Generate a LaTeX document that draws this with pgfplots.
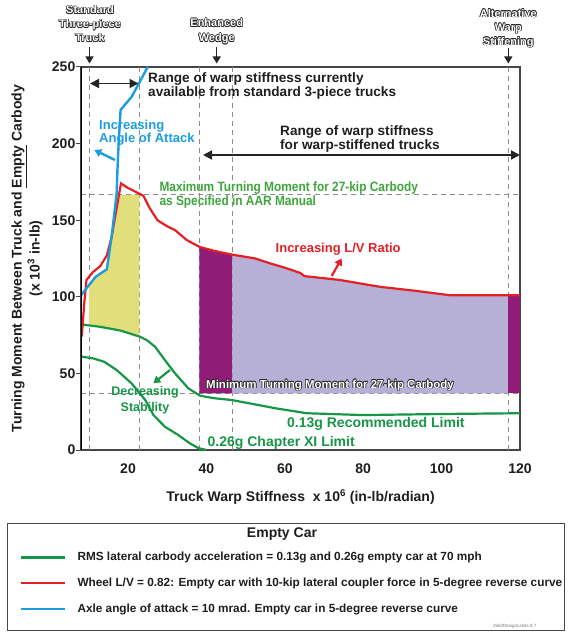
\documentclass[border=0pt]{standalone}
\usepackage{pgfplots}
\pgfplotsset{compat=1.18}
\usepackage{fontspec}
\setmainfont{Liberation Sans}
\setsansfont{Liberation Sans}
\newfontfamily\condfont[FakeStretch=0.88]{Liberation Sans}
\usetikzlibrary{arrows.meta}
\definecolor{cred}{RGB}{228,32,38}
\definecolor{cblue}{RGB}{27,157,224}
\definecolor{cgreen}{RGB}{22,150,70}
\definecolor{clgreen}{RGB}{62,165,62}
\definecolor{cyellow}{RGB}{226,222,124}
\definecolor{cpurple}{RGB}{145,28,120}
\definecolor{clav}{RGB}{182,176,215}
\definecolor{cdash}{RGB}{140,140,140}
\definecolor{ctext}{RGB}{30,30,30}
\newcommand\fs[2]{\fontsize{#1}{#2}\selectfont}
% outlined text: #1 position, #2 node options, #3 text
\newcommand\otext[3]{%
  \foreach \dx/\dy in {0.65/0,-0.65/0,0/0.65,0/-0.65,0.46/0.46,-0.46/0.46,0.46/-0.46,-0.46/-0.46}{%
    \node[#2,text=black!85,xshift=\dx pt,yshift=\dy pt] at #1 {#3};}%
  \node[#2,text=white] at #1 {#3};}
\begin{document}
\begin{tikzpicture}
\path[use as bounding box] (0,0) rectangle (573pt,638pt);
\begin{axis}[
  at={(81pt,188pt)}, anchor=south west, scale only axis,
  width=439pt, height=383pt,
  xmin=8, xmax=120, ymin=0, ymax=250,
  xtick={20,40,60,80,100,120}, ytick={0,50,100,150,200,250},
  axis line style={draw=black!72, line width=1.2pt},
  tick align=outside, major tick length=5pt,
  ytick pos=left, xtick pos=bottom,
  y tick style={draw=black!72, line width=1pt},
  x tick style={draw=none},
  /pgf/number format/assume math mode=true,
  ticklabel style={font=\bfseries\fs{14}{16}, text=ctext},
  yticklabel style={inner sep=0pt, xshift=-0.5pt},
  xticklabel style={yshift=-5pt},
  xlabel={Truck Warp Stiffness\ \ x 10\textsuperscript{6} (in-lb/radian)},
  ylabel={Turning Moment Between Truck and \underline{Empty} Carbody\\(x 10\textsuperscript{3} in-lb)},
  every axis x label/.style={at={(axis description cs:0.5,-0.1219)}, anchor=center, font=\bfseries\fs{14}{17}, text=ctext},
  every axis y label/.style={at={(axis description cs:-0.123,0.5)}, rotate=90, anchor=center, align=center, font=\bfseries\fs{14}{18}, text=ctext},
  legend cell align=left,
  legend image code/.code={\draw[#1, line width=2.3pt] (0pt,0pt) -- (44pt,0pt);},
  legend style={at={(rel axis cs:-0.13895,-0.24608)}, anchor=north west,
    draw=none, fill=none, inner sep=0pt, row sep=0pt, column sep=11pt,
    font=\bfseries\fs{11.8}{13},
    nodes={inner sep=0pt, minimum height=25.8pt, text=ctext}},
]
% dashed reference lines
\draw[cdash, line width=1pt, dash pattern=on 5pt off 4pt] (axis cs:8,166.5) -- (axis cs:120,166.5);
\draw[cdash, line width=1pt, dash pattern=on 5pt off 4pt] (axis cs:8,37) -- (axis cs:120,37);
\draw[cdash, line width=1pt, dash pattern=on 5pt off 4pt] (axis cs:10.1,0) -- (axis cs:10.1,250);
\draw[cdash, line width=1pt, dash pattern=on 5pt off 4pt] (axis cs:22.9,0) -- (axis cs:22.9,250);
\draw[cdash, line width=1pt, dash pattern=on 5pt off 4pt] (axis cs:38.2,0) -- (axis cs:38.2,250);
\draw[cdash, line width=1pt, dash pattern=on 5pt off 4pt] (axis cs:46.6,0) -- (axis cs:46.6,250);
\draw[cdash, line width=1pt, dash pattern=on 5pt off 4pt] (axis cs:117,0) -- (axis cs:117,250);
% filled regions
\addplot[fill=cyellow, draw=none, forget plot] coordinates {
 (10.1,81.3) (12.9,80.4) (18,78) (22.9,74) (22.9,166.5) (17.05,166.5) (15.8,139) (14.6,118) (11.7,113) (10.1,107.5)} -- cycle;
\addplot[fill=cpurple, draw=none, forget plot] coordinates {
 (38.2,37) (46.6,37) (46.6,127.5) (42,130) (38.2,132.5)} -- cycle;
\addplot[fill=clav, draw=none, forget plot] coordinates {
 (46.6,37) (117,37) (117,101) (102.2,101) (93,104) (84.3,106.5) (74,111) (65,113.5) (64,115.5) (60,119) (56,122) (52.5,125) (46.6,127.5)} -- cycle;
\addplot[fill=cpurple, draw=none, forget plot] coordinates {
 (117,37) (120,37) (120,101) (117,101)} -- cycle;
% curves
\addplot[cgreen, line width=2.2pt, forget plot] coordinates {
 (8,61) (11.1,59.8) (13.9,57.6) (17.2,52) (20.9,43.5) (24.4,32.6) (26.5,22.8) (29.4,15.2) (32.8,9.8) (35.8,4.3) (38,1.2) (40,0)};
\addplot[cgreen, line width=2.2pt] coordinates {
 (8,82) (12.9,80.4) (18,78) (23,74) (24.8,71.7) (26.9,67.4) (29.4,58.7) (32,50) (35.4,40.2) (38.4,35.4) (42,33.8) (46.5,32.6) (57.7,27.2) (65.6,24) (80,22.8) (100,23.5) (120,24)};
\addlegendentry{RMS lateral carbody acceleration = 0.13g and 0.26g empty car at 70 mph}
\addplot[cred, line width=2.2pt] coordinates {
 (8.2,74) (8.8,95) (9.4,111) (11,116) (12.9,120) (14.6,127) (15.8,139) (18.2,174) (20,171) (23.9,166) (25.5,158) (27.5,150) (30,146) (32,143.5) (35,137) (38.3,132.5) (42,130) (46.6,127.5) (52.5,125) (56,122) (60,119) (64,115.5) (65,113.5) (74,111) (84.3,106.5) (93,104) (102.2,101) (120,101)};
\addlegendentry{Wheel L/V = 0.82: Empty car with 10-kip lateral coupler force in 5-degree reverse curve}
\addplot[cblue, line width=2.4pt] coordinates {
 (8,101) (11.7,113) (14.6,118) (15.8,139) (17.1,167.5) (17.3,183) (17.6,200) (18.1,222) (20.9,230.5) (22.5,238) (24.8,249) (25.1,250)};
\addlegendentry{Axle angle of attack = 10 mrad. Empty car in 5-degree reverse curve}
\draw[black, line width=2pt] (axis cs:8,0) -- (axis cs:8,250);
\end{axis}
\begin{scope}[shift={(0pt,638pt)}, x=1pt, y=-1pt]
% top labels
\otext{(90,24)}{align=center, font=\bfseries\fs{11}{14}}{Standard\\Three-piece\\Truck}
\otext{(216.7,31.3)}{align=center, font=\bfseries\fs{11}{15}}{Enhanced\\Wedge}
\otext{(508.3,28.5)}{align=center, font=\bfseries\fs{11}{14}}{Alternative\\Warp\\Stiffening}
\draw[-{Triangle[length=7pt,width=8pt]}, line width=1.3pt, black!85] (89.5,47) -- (89.5,63.5);
\draw[-{Triangle[length=7pt,width=8pt]}, line width=1.3pt, black!85] (216.7,47) -- (216.7,63.5);
\draw[-{Triangle[length=7pt,width=8pt]}, line width=1.3pt, black!85] (508.3,48) -- (508.3,63.5);
% ranges
\draw[{Triangle[length=9pt,width=9pt]}-{Triangle[length=9pt,width=9pt]}, line width=1.8pt, black!85] (90,83.5) -- (138.5,83.5);
\draw[{Triangle[length=9pt,width=9pt]}-{Triangle[length=9pt,width=9pt]}, line width=1.8pt, black!85] (203,155) -- (520,155);
\node[anchor=base west, inner sep=0pt, font=\bfseries\fs{13.6}{16}, text=ctext] at (148,83) {Range of warp stiffness currently};
\node[anchor=base west, inner sep=0pt, font=\bfseries\fs{13.6}{16}, text=ctext] at (148,97) {available from standard 3-piece trucks};
\node[anchor=base west, inner sep=0pt, font=\bfseries\fs{13.6}{16}, text=ctext] at (280,135.8) {Range of warp stiffness};
\node[anchor=base west, inner sep=0pt, font=\bfseries\fs{13.6}{16}, text=ctext] at (280,149.6) {for warp-stiffened trucks};
% blue annotation
\node[anchor=base west, inner sep=0pt, font=\bfseries\fs{13}{15}, text=cblue] at (99,129.5) {Increasing};
\node[anchor=base west, inner sep=0pt, font=\bfseries\fs{13}{15}, text=cblue] at (99,142.5) {Angle of Attack};
\draw[-{Triangle[length=7pt,width=8pt]}, line width=2.4pt, cblue] (115,160) -- (94.3,150);
% green max moment
\node[anchor=base west, inner sep=0pt, font=\condfont\bfseries\fs{13.5}{15}, text=clgreen] at (159.3,191.5) {Maximum Turning Moment for 27-kip Carbody};
\node[anchor=base west, inner sep=0pt, font=\condfont\bfseries\fs{13.5}{15}, text=clgreen] at (159.3,206) {as Specified in AAR Manual};
% red annotation
\node[anchor=base west, inner sep=0pt, font=\bfseries\fs{13}{15}, text=cred] at (275.5,252.5) {Increasing L/V Ratio};
\draw[-{Triangle[length=7pt,width=8pt]}, line width=2.2pt, cred] (331.7,276) -- (341.7,258.3);
% stability
\node[anchor=base, inner sep=0pt, font=\bfseries\fs{12.5}{15}, text=cgreen] at (145,395.8) {Decreasing};
\node[anchor=base, inner sep=0pt, font=\bfseries\fs{12.5}{15}, text=cgreen] at (145,411.3) {Stability};
\draw[-{Triangle[length=7pt,width=8pt]}, line width=2.2pt, cgreen] (170,370) -- (153.3,383.3);
\otext{(206,388.3)}{anchor=base west, inner sep=0pt, font=\bfseries\fs{11.5}{14}}{Minimum Turning Moment for 27-kip Carbody}
\node[anchor=base west, inner sep=0pt, font=\bfseries\fs{14}{16}, text=cgreen] at (287,427.5) {0.13g Recommended Limit};
\node[anchor=base west, inner sep=0pt, font=\bfseries\fs{14}{16}, text=cgreen] at (207.5,446.3) {0.26g Chapter XI Limit};
% legend frame and title
\draw[black!72, line width=1.2pt] (7.3,523.3) rectangle (564.7,630.5);
\node[anchor=base, inner sep=0pt, font=\bfseries\fs{14}{16}, text=ctext] at (282,538) {Empty Car};
\node[anchor=base, inner sep=0pt, font=\fs{4.5}{5}, text=black!55] at (514.7,628) {2562DesignLimits 8.7};
\end{scope}
\end{tikzpicture}
\end{document}
